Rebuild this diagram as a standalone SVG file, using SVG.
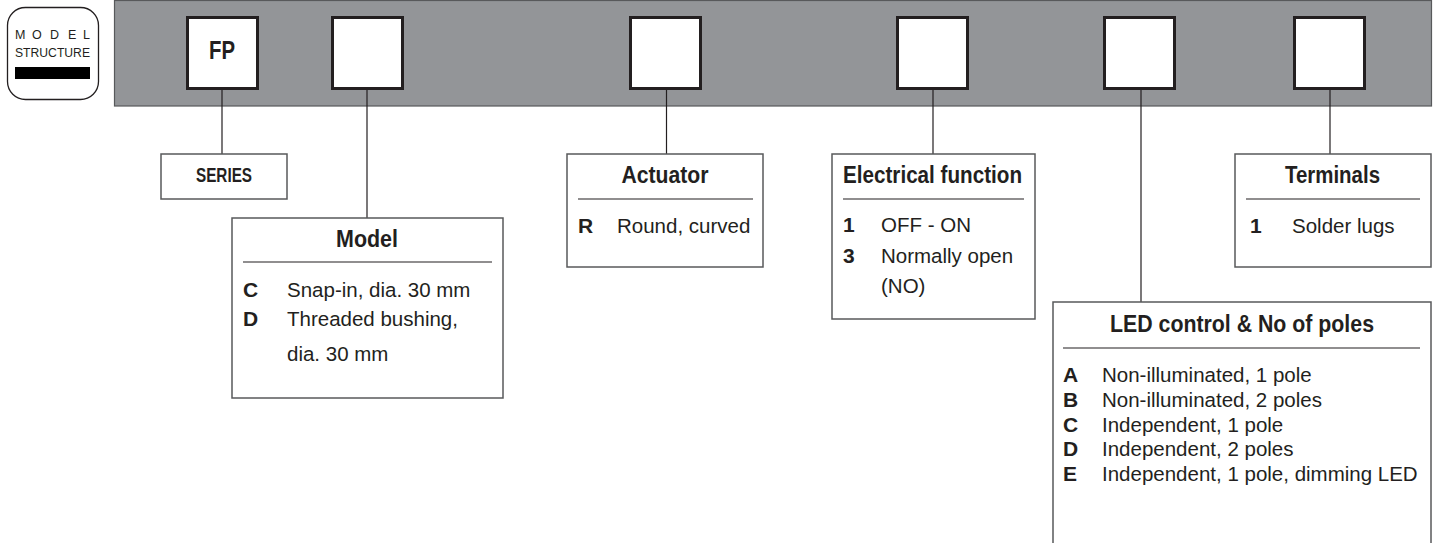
<svg xmlns="http://www.w3.org/2000/svg" width="1439" height="543" viewBox="0 0 1439 543">
<style>
text{font-family:"Liberation Sans",Arial,sans-serif;fill:#231f20}
.ttl{font-size:23px;font-weight:bold;text-anchor:middle}
.key{font-size:21px;font-weight:bold}
.txt{font-size:20.5px}
.info{fill:#fff;stroke:#58595b;stroke-width:1.5}
.sep{stroke:#231f20;stroke-width:1.2}
.slot{fill:#fff;stroke:#231f20;stroke-width:3}
.conn line{stroke:#231f20;stroke-width:1.2}
</style>
<rect width="1439" height="543" fill="#fff"/>
<g id="badge">
<rect x="7.5" y="7.5" width="91" height="92" rx="18" fill="#fff" stroke="#231f20" stroke-width="1.3"/>
<text x="15 32 50 68 83" y="39" style="font-size:12.5px">MODEL</text>
<text x="15" y="57" textLength="75" lengthAdjust="spacingAndGlyphs" style="font-size:12.5px">STRUCTURE</text>
<rect x="15" y="67" width="75" height="12" fill="#000"/>
</g>
<g id="code-bar">
<rect x="114.5" y="0.5" width="1317" height="105.5" fill="#939598" stroke="#58595b" stroke-width="1.2"/>
<rect class="slot" x="187.5" y="17.5" width="70" height="71"/>
<text x="209" y="59" textLength="26" lengthAdjust="spacingAndGlyphs" style="font-size:25px;font-weight:bold">FP</text>
<rect class="slot" x="332.5" y="17.5" width="70" height="71"/>
<rect class="slot" x="630.5" y="17.5" width="70" height="71"/>
<rect class="slot" x="897.5" y="17.5" width="70" height="71"/>
<rect class="slot" x="1104.5" y="17.5" width="70" height="71"/>
<rect class="slot" x="1294.5" y="17.5" width="70" height="71"/>
</g>
<g id="connectors" class="conn">
<line x1="222" y1="90" x2="222" y2="154"/>
<line x1="367" y1="90" x2="367" y2="218"/>
<line x1="666.5" y1="90" x2="666.5" y2="154"/>
<line x1="933" y1="90" x2="933" y2="154"/>
<line x1="1141" y1="90" x2="1141" y2="302"/>
<line x1="1330" y1="90" x2="1330" y2="154"/>
</g>
<g id="series">
<rect class="info" x="161" y="154" width="126" height="45"/>
<text x="196" y="182" textLength="56" lengthAdjust="spacingAndGlyphs" style="font-size:20px;font-weight:bold">SERIES</text>
</g>
<g id="model">
<rect class="info" x="232" y="218" width="271" height="180"/>
<text class="ttl" x="367" y="247" textLength="62" lengthAdjust="spacingAndGlyphs">Model</text>
<line class="sep" x1="243" y1="262" x2="492" y2="262"/>
<text class="key" x="243" y="297">C</text><text class="txt" x="287" y="297">Snap-in, dia. 30 mm</text>
<text class="key" x="243" y="326">D</text><text class="txt" x="287" y="326">Threaded bushing,</text>
<text class="txt" x="287" y="361">dia. 30 mm</text>
</g>
<g id="actuator">
<rect class="info" x="567" y="154" width="196" height="113"/>
<text class="ttl" x="665" y="183" textLength="87" lengthAdjust="spacingAndGlyphs">Actuator</text>
<line class="sep" x1="578" y1="199" x2="753" y2="199"/>
<text class="key" x="578" y="233">R</text><text class="txt" x="617" y="233">Round, curved</text>
</g>
<g id="electrical">
<rect class="info" x="832" y="154" width="203" height="165"/>
<text class="ttl" x="932.5" y="183" textLength="179" lengthAdjust="spacingAndGlyphs">Electrical function</text>
<line class="sep" x1="843" y1="199" x2="1024" y2="199"/>
<text class="key" x="843" y="232">1</text><text class="txt" x="881" y="232">OFF - ON</text>
<text class="key" x="843" y="263">3</text><text class="txt" x="881" y="263">Normally open</text>
<text class="txt" x="881" y="293">(NO)</text>
</g>
<g id="led">
<rect class="info" x="1053" y="302" width="378" height="250"/>
<text class="ttl" x="1242" y="332" textLength="264" lengthAdjust="spacingAndGlyphs">LED control &amp; No of poles</text>
<line class="sep" x1="1063" y1="348" x2="1420" y2="348"/>
<text class="key" x="1063" y="382">A</text><text class="txt" x="1102" y="382">Non-illuminated, 1 pole</text>
<text class="key" x="1063" y="407">B</text><text class="txt" x="1102" y="407">Non-illuminated, 2 poles</text>
<text class="key" x="1063" y="432">C</text><text class="txt" x="1102" y="432">Independent, 1 pole</text>
<text class="key" x="1063" y="456">D</text><text class="txt" x="1102" y="456">Independent, 2 poles</text>
<text class="key" x="1063" y="481">E</text><text class="txt" x="1102" y="481">Independent, 1 pole, dimming LED</text>
</g>
<g id="terminals">
<rect class="info" x="1235" y="154" width="196" height="113"/>
<text class="ttl" x="1332.5" y="183" textLength="95" lengthAdjust="spacingAndGlyphs">Terminals</text>
<line class="sep" x1="1246" y1="199" x2="1420" y2="199"/>
<text class="key" x="1250" y="233">1</text><text class="txt" x="1292" y="233">Solder lugs</text>
</g>
</svg>
